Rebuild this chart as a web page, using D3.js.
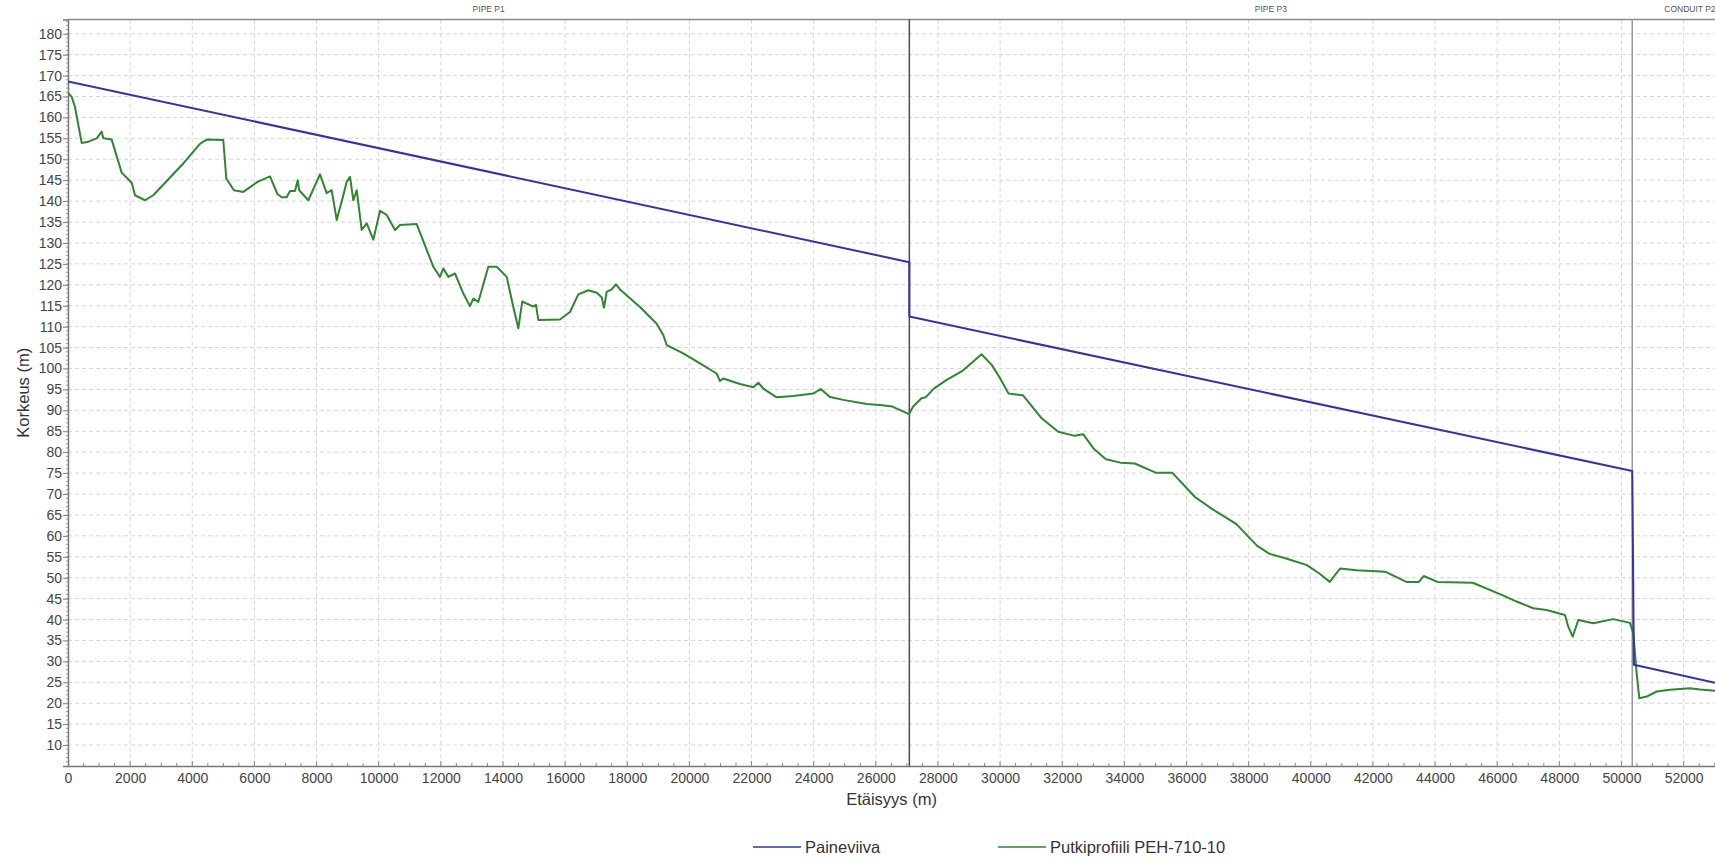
<!DOCTYPE html>
<html>
<head>
<meta charset="utf-8">
<script src="https://cdn.jsdelivr.net/npm/d3@7"></script>
<style>
  html, body { margin: 0; padding: 0; background: #fff; }
  svg { display: block; font-family: "Liberation Sans", Arial, sans-serif; }
</style>
</head>
<body>
<svg id="chart" width="1715" height="868"></svg>
<script>
// ---- data ----
const pressureDist = [0, 27080, 27080, 50347, 50400, 53010];
const pressureElev = [168.6, 125.4, 112.4, 75.5, 29.2, 24.9];

const profileDist = [0, 120, 225, 440, 655, 923, 1084, 1137, 1406, 1727, 2050, 2156, 2478, 2745, 3711, 4248, 4463, 4998, 5095, 5340, 5642, 6100, 6501, 6740, 6877, 7038, 7145, 7306, 7393, 7440, 7735, 8111, 8326, 8487, 8648, 8862, 8970, 9077, 9184, 9292, 9453, 9614, 9828, 10042, 10257, 10524, 10685, 11223, 11758, 11973, 12080, 12241, 12456, 12723, 12938, 13045, 13206, 13528, 13798, 14120, 14333, 14494, 14620, 14976, 15063, 15137, 15835, 16157, 16425, 16747, 17017, 17178, 17252, 17338, 17499, 17637, 17766, 18410, 18947, 19160, 19268, 19803, 20341, 20878, 20984, 21090, 21628, 22057, 22218, 22379, 22809, 23343, 23987, 24225, 24525, 24953, 25706, 26134, 26534, 27070, 27203, 27470, 27603, 27869, 28268, 28803, 29404, 29737, 30004, 30271, 30738, 31339, 31871, 32404, 32672, 33006, 33406, 33872, 34339, 35005, 35539, 36273, 36807, 37608, 38275, 38674, 39208, 39875, 40276, 40609, 40943, 41477, 42411, 43077, 43478, 43638, 44077, 45210, 46148, 46627, 47162, 47591, 48180, 48288, 48429, 48610, 49093, 49737, 50274, 50381, 50435, 50489, 50573, 50811, 51133, 51561, 52205, 52527, 53010];
const profileElev = [165.9, 164.9, 162.5, 153.9, 154.2, 155, 156.6, 155, 154.7, 146.8, 144.4, 141.4, 140.2, 141.4, 149, 153.7, 154.7, 154.6, 145.4, 142.6, 142.2, 144.6, 145.9, 141.7, 140.9, 140.9, 142.4, 142.4, 145, 142.6, 140.2, 146.4, 141.9, 142.6, 135.5, 141.4, 144.6, 145.8, 140.2, 142.6, 133.1, 134.7, 130.8, 137.7, 136.7, 133.1, 134.3, 134.5, 124.3, 121.9, 123.9, 121.9, 122.7, 117.9, 114.9, 116.7, 115.9, 124.3, 124.3, 121.9, 114.7, 109.6, 116, 114.8, 115.2, 111.6, 111.7, 113.5, 117.7, 118.7, 118.1, 117, 114.5, 118.3, 118.9, 120.1, 118.9, 114.7, 110.7, 108, 105.6, 103.6, 101.2, 98.8, 97, 97.6, 96.3, 95.5, 96.6, 95.2, 93.1, 93.4, 94, 95.1, 93.2, 92.5, 91.5, 91.3, 90.9, 89.1, 90.9, 92.9, 93.1, 95.2, 97.2, 99.5, 103.4, 100.8, 97.6, 94, 93.6, 88.1, 84.9, 83.9, 84.3, 80.9, 78.3, 77.5, 77.3, 75.1, 75.1, 69.3, 66.5, 62.8, 57.6, 55.7, 54.6, 53, 51, 49, 52.2, 51.8, 51.4, 49, 49, 50.4, 49, 48.8, 45.9, 44.3, 42.7, 42.3, 41.1, 38.3, 35.9, 39.9, 39.1, 40.1, 39.2, 36.7, 31.9, 27.1, 21.2, 21.6, 22.8, 23.2, 23.6, 23.3, 23];

const segmentNames = ["PIPE P1", "PIPE P3", "CONDUIT P2"];
const segmentStarts = [0, 27080, 50347];
const segmentEnds = [27080, 50347, 54060];

const seriesNames = ["Paineviiva", "Putkiprofiili PEH-710-10"];
const xTicks = d3.range(0, 54000, 2000);
const yTicks = d3.range(10, 181, 5);
const xTitle = "Etäisyys (m)";
const yTitle = "Korkeus (m)";

// ---- layout ----
const svg = d3.select("#chart");
const pL = 68, pR = 1715, pT = 19.5, pB = 766;
const x = d3.scaleLinear().domain([0, 53010]).range([pL, pR]);
const y = d3.scaleLinear().domain([5, 183.4]).range([pB, pT]);
const blue = "#3333a6", green = "#2f862f";

svg.append("rect").attr("width", 1715).attr("height", 868).attr("fill", "#fff");

// grid
const grid = svg.append("g");
grid.selectAll("line.h").data(yTicks).join("line")
  .attr("x1", pL).attr("x2", pR)
  .attr("y1", d => y(d)).attr("y2", d => y(d))
  .attr("stroke", "#d6d6d6").attr("stroke-width", 1).attr("stroke-dasharray", "4,3");
grid.append("g").selectAll("line").data(xTicks.filter(d => d > 0)).join("line")
  .attr("x1", d => x(d)).attr("x2", d => x(d))
  .attr("y1", pT).attr("y2", pB)
  .attr("stroke", "#d6d6d6").attr("stroke-width", 1).attr("stroke-dasharray", "4,3");

// top border
svg.append("line").attr("x1", pL).attr("x2", pR).attr("y1", pT).attr("y2", pT)
  .attr("stroke", "#8a8a8a").attr("stroke-width", 1.5);

// segment boundaries
const boundaryColors = ["#4a4a4a", "#9a9a9a"];
svg.append("g").selectAll("line").data(segmentStarts.slice(1)).join("line")
  .attr("x1", d => x(d)).attr("x2", d => x(d))
  .attr("y1", pT).attr("y2", pB)
  .attr("stroke", (d, i) => boundaryColors[i]).attr("stroke-width", 1.5);

// segment labels
svg.append("g").selectAll("text").data(segmentNames).join("text")
  .attr("x", (d, i) => x((segmentStarts[i] + segmentEnds[i]) / 2))
  .attr("y", 12)
  .attr("text-anchor", "middle")
  .attr("font-size", 8.5).attr("fill", "#555")
  .text(d => d);

// axes
const yAxis = d3.axisLeft(y).tickValues(yTicks).tickSize(5).tickPadding(1).tickFormat(d3.format("d"));
const gy = svg.append("g").attr("transform", `translate(${pL},0)`).call(yAxis);
gy.select(".domain").attr("stroke", "#777").attr("stroke-width", 1.5);
gy.selectAll(".tick line").attr("stroke", "#777");
gy.selectAll(".tick text").attr("font-size", 14).attr("fill", "#444")
  .attr("font-family", "Liberation Sans, Arial, sans-serif");
// y minor ticks
svg.append("g").selectAll("line").data(d3.range(6, 184, 1)).join("line")
  .attr("x1", pL - 2).attr("x2", pL)
  .attr("y1", d => y(d)).attr("y2", d => y(d))
  .attr("stroke", "#999").attr("stroke-width", 1);

const xAxis = d3.axisBottom(x).tickValues(xTicks).tickSize(0).tickPadding(7).tickFormat(d3.format("d"));
const gx = svg.append("g").attr("transform", `translate(0,${pB})`).call(xAxis);
gx.select(".domain").attr("stroke", "#777").attr("stroke-width", 1.5);
gx.selectAll(".tick text").attr("font-size", 14).attr("fill", "#444")
  .attr("font-family", "Liberation Sans, Arial, sans-serif");
// x ticks (inward)
svg.append("g").selectAll("line").data(d3.range(500, 53010, 500)).join("line")
  .attr("x1", d => x(d)).attr("x2", d => x(d))
  .attr("y1", pB).attr("y2", d => pB - (d % 2000 === 0 ? 5 : 3))
  .attr("stroke", "#888").attr("stroke-width", 1);

// axis titles
svg.append("text").attr("x", (pL + pR) / 2).attr("y", 805)
  .attr("text-anchor", "middle").attr("font-size", 16.5).attr("fill", "#333").text(xTitle);
svg.append("text").attr("transform", `translate(29,${(pT + pB) / 2}) rotate(-90)`)
  .attr("text-anchor", "middle").attr("font-size", 16.5).attr("fill", "#333").text(yTitle);

// lines
svg.append("clipPath").attr("id", "clip").append("rect")
  .attr("x", pL).attr("y", pT).attr("width", pR - pL).attr("height", pB - pT);
const line = d3.line().x(d => x(d[0])).y(d => y(d[1]));
svg.append("path")
  .datum(profileDist.map((d, i) => [d, profileElev[i]]))
  .attr("d", line).attr("fill", "none").attr("stroke", green).attr("stroke-width", 2)
  .attr("stroke-linejoin", "round").attr("clip-path", "url(#clip)");
svg.append("path")
  .datum(pressureDist.map((d, i) => [d, pressureElev[i]]))
  .attr("d", line).attr("fill", "none").attr("stroke", blue).attr("stroke-width", 2)
  .attr("stroke-linejoin", "round").attr("clip-path", "url(#clip)");

// legend
const legendX = [753, 998];
const legendColors = [blue, green];
const lg = svg.append("g");
seriesNames.forEach((name, i) => {
  lg.append("line").attr("x1", legendX[i]).attr("x2", legendX[i] + 48)
    .attr("y1", 847).attr("y2", 847).attr("stroke", legendColors[i]).attr("stroke-width", 1.5);
  lg.append("text").attr("x", legendX[i] + 52).attr("y", 853)
    .attr("font-size", 16.5).attr("fill", "#333").text(name);
});
</script>
</body>
</html>
